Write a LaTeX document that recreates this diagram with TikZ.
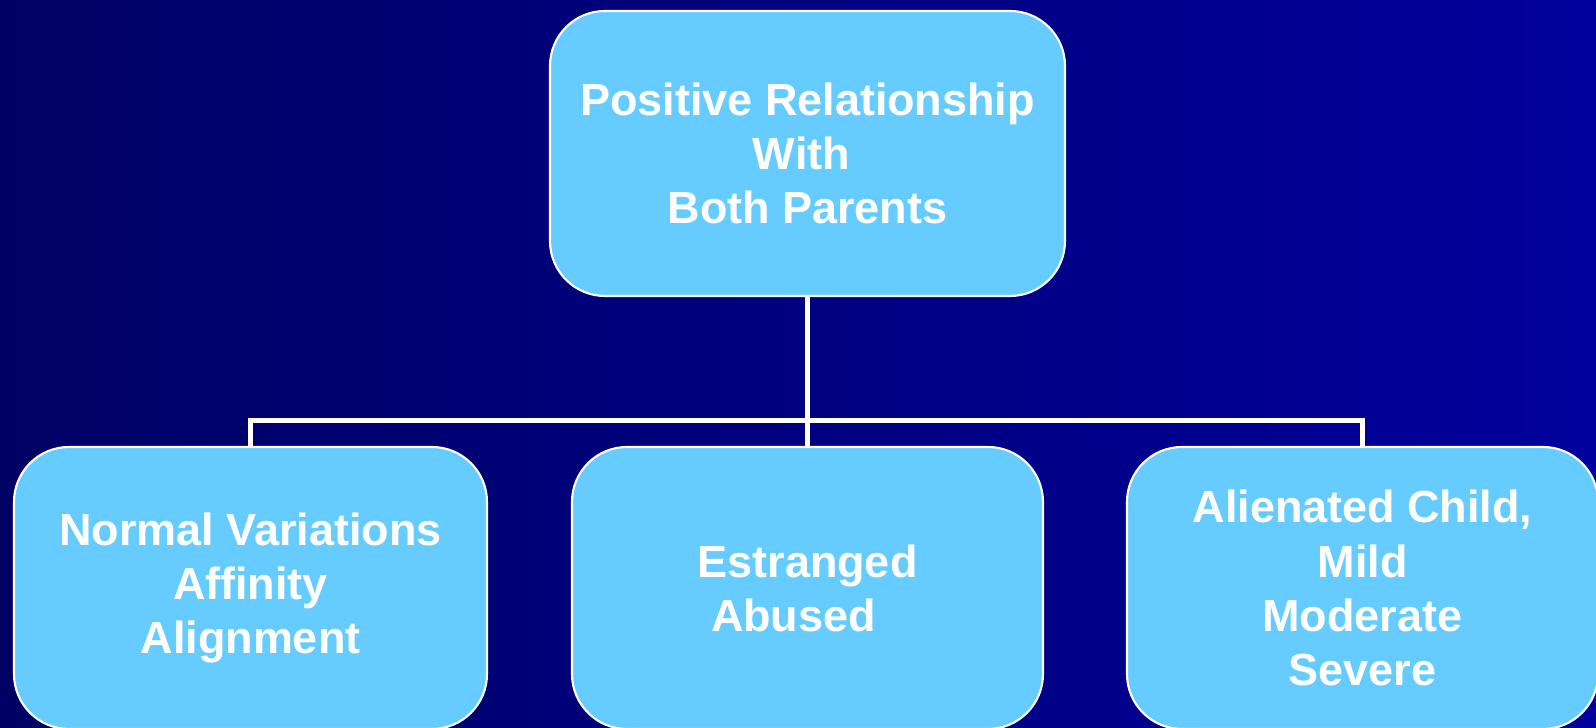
\documentclass[tikz,border=0pt]{standalone}
\usepackage{fontspec}
\setmainfont{Liberation Sans}
\definecolor{bgleft}{RGB}{0,0,100}
\definecolor{bgright}{RGB}{0,0,156}
\definecolor{boxblue}{RGB}{102,204,255}
\tikzset{
  box/.style={draw=white, line width=0.6pt, fill=boxblue, rounded corners=0.55cm,
    text=white, align=center, inner sep=0pt,
    font=\fontsize{12.8}{15.4}\selectfont\bfseries},
  wire/.style={draw=white, line width=0.05cm}
}
\begin{document}
\begin{tikzpicture}
                \clip (0,0) rectangle (15.96,7.28);
                \shade[left color=bgleft, right color=bgright] (0,0) rectangle (15.96,7.28);
                %% boxes
                \node[box, minimum width=5.15cm, minimum height=2.85cm] (top) at (8.075,5.745)
                    {Positive Relationship\\With\rule{0.12cm}{0pt}\\Both Parents};
                \node[box, minimum width=4.73cm, minimum height=2.82cm] (normal) at (2.505,1.40)
                    {Normal Variations\\Affinity\\Alignment};
                \node[box, minimum width=4.71cm, minimum height=2.82cm] (estranged) at (8.075,1.40)
                    {Estranged\\Abused\rule{0.28cm}{0pt}};
                \node[box, minimum width=4.71cm, minimum height=2.82cm] (alienated) at (13.625,1.40)
                    {Alienated Child,\\Mild\\Moderate\\Severe};
                %% connectors
                \coordinate (bus) at (0,3.07);
                \draw[wire] (top.south) -- (estranged.north);
                \draw[wire] (normal.north) |- (bus -| alienated.north) -- (alienated.north);
            \end{tikzpicture}
\end{document}
